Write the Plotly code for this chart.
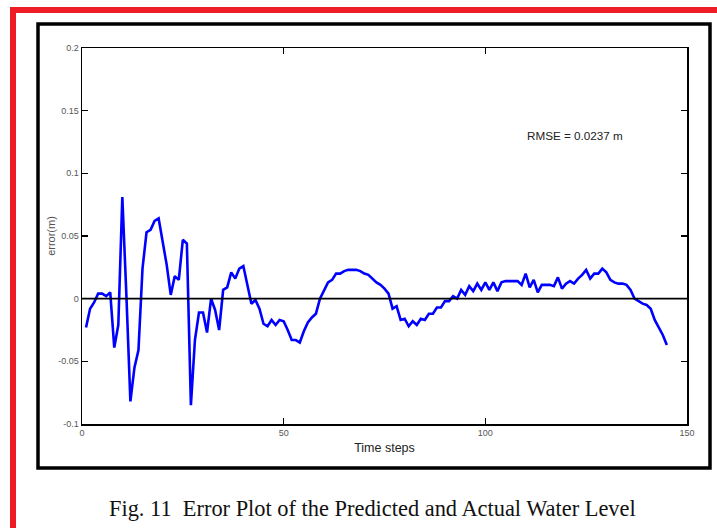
import plotly.graph_objects as go

# ---- data ----
time_steps = list(range(1, 146))
error_m = [
    -0.023, -0.008, -0.003, 0.004, 0.004, 0.002, 0.005, -0.039, -0.021, 0.081,
    0.003, -0.082, -0.055, -0.041, 0.024, 0.053, 0.055, 0.062, 0.064, 0.046,
    0.027, 0.003, 0.018, 0.015, 0.047, 0.044, -0.085, -0.033, -0.011, -0.011,
    -0.027, 0.000, -0.009, -0.025, 0.007, 0.009, 0.021, 0.016, 0.024, 0.026,
    0.012, -0.004, -0.001, -0.008, -0.020, -0.022, -0.017, -0.021, -0.017, -0.018,
    -0.025, -0.033, -0.033, -0.035, -0.026, -0.019, -0.015, -0.012, 0.000, 0.007,
    0.013, 0.015, 0.020, 0.020, 0.022, 0.023, 0.023, 0.023, 0.022, 0.020,
    0.019, 0.016, 0.013, 0.011, 0.008, 0.004, -0.008, -0.006, -0.017, -0.016,
    -0.022, -0.018, -0.021, -0.016, -0.017, -0.012, -0.012, -0.007, -0.007, -0.002,
    -0.002, 0.002, 0.000, 0.007, 0.003, 0.010, 0.006, 0.012, 0.007, 0.013,
    0.007, 0.013, 0.006, 0.013, 0.014, 0.014, 0.014, 0.014, 0.011, 0.020,
    0.009, 0.015, 0.005, 0.011, 0.011, 0.011, 0.010, 0.017, 0.008, 0.012,
    0.014, 0.012, 0.016, 0.019, 0.023, 0.016, 0.020, 0.020, 0.024, 0.021,
    0.015, 0.013, 0.012, 0.012, 0.011, 0.007, 0.000, -0.002, -0.004, -0.005,
    -0.008, -0.017, -0.023, -0.029, -0.037,
]
x_tick_vals = [0, 50, 100, 150]
x_tick_text = ["0", "50", "100", "150"]
y_tick_vals = [-0.1, -0.05, 0, 0.05, 0.1, 0.15, 0.2]
y_tick_text = ["-0.1", "-0.05", "0", "0.05", "0.1", "0.15", "0.2"]
x_title = "Time steps"
y_title = "error(m)"
rmse_text = "RMSE = 0.0237 m"
caption = "Fig. 11\u00a0\u00a0Error Plot of the Predicted and Actual Water Level"

# ---- layout geometry (pixels) ----
W, H = 717, 528
L, R, T, B = 82, 687, 48, 424


def px(x):
    return (x - L) / (R - L)


def py(y):
    return (B - y) / (B - T)


SANS = "Liberation Sans Narrow, Liberation Sans, Arial, sans-serif"
SERIF = "Liberation Serif, Times New Roman, serif"

fig = go.Figure()
fig.add_trace(go.Scatter(
    x=time_steps, y=error_m, mode="lines",
    line=dict(color="#0000ff", width=2.6),
    showlegend=False, hoverinfo="skip",
))

axis_common = dict(
    showline=True, linecolor="black", linewidth=1.5, mirror="ticks",
    ticks="inside", ticklen=6, tickwidth=1.5, tickcolor="black",
    showgrid=False, tickfont=dict(family=SANS, size=9, color="#555555"),
    automargin=False, zeroline=False,
)

fig.update_layout(
    width=W, height=H, autosize=False,
    margin=dict(l=L, r=W - R, t=T, b=H - B, pad=0),
    paper_bgcolor="white", plot_bgcolor="white",
    xaxis=dict(
        range=[0, 150], tickvals=x_tick_vals, ticktext=x_tick_text,
        title=dict(text=x_title, font=dict(family=SANS, size=12.5, color="#222222"), standoff=6),
        **axis_common,
    ),
    yaxis=dict(
        range=[-0.1, 0.2], tickvals=y_tick_vals, ticktext=y_tick_text,
        title=dict(text=y_title, font=dict(family=SANS, size=11, color="#555555"), standoff=0),
        **axis_common,
    ),
    shapes=[
        # zero reference line, drawn over the error curve
        dict(type="line", xref="x domain", yref="y",
             x0=0, x1=1, y0=0, y1=0, layer="above",
             line=dict(color="black", width=1.8)),
        # red page border (top and left)
        dict(type="rect", xref="paper", yref="paper",
             x0=px(10), x1=px(717), y0=py(13), y1=py(7),
             fillcolor="#ee1c25", line=dict(width=0)),
        dict(type="rect", xref="paper", yref="paper",
             x0=px(10), x1=px(16), y0=py(528), y1=py(7),
             fillcolor="#ee1c25", line=dict(width=0)),
        # black figure frame
        dict(type="rect", xref="paper", yref="paper",
             x0=px(38), x1=px(710), y0=py(468), y1=py(24),
             line=dict(color="black", width=3.5), fillcolor="rgba(0,0,0,0)"),
    ],
    annotations=[
        dict(text=rmse_text, xref="paper", yref="paper",
             x=px(575), y=py(135), xanchor="center", yanchor="middle",
             showarrow=False, font=dict(family=SANS, size=11.7, color="#222222")),
        dict(text=caption, xref="paper", yref="paper",
             x=px(372), y=py(509), xanchor="center", yanchor="middle",
             showarrow=False, font=dict(family=SERIF, size=22.4, color="#111111")),
    ],
)

fig.write_html(
    "out.html",
    config={"displayModeBar": False, "staticPlot": True},
    post_script="document.body.style.margin='0';document.body.style.overflow='hidden';",
)
